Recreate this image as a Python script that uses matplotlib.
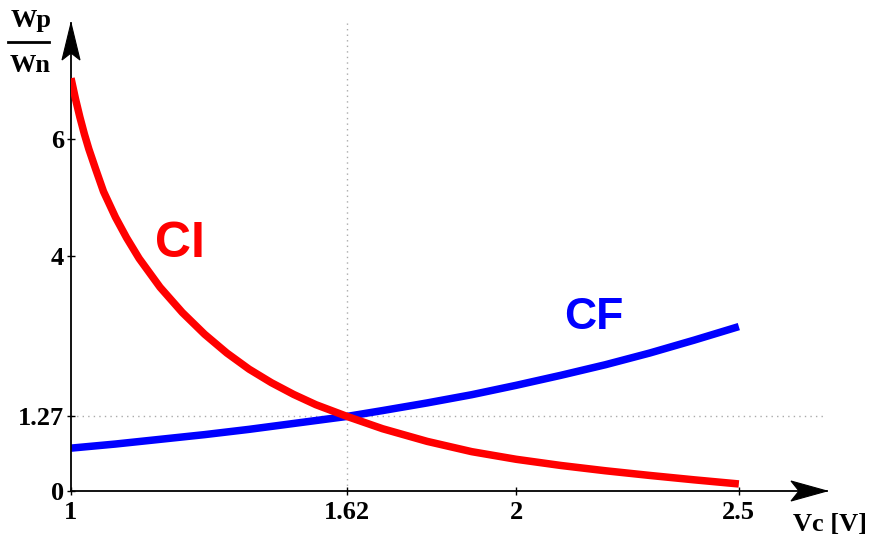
import numpy as np
import matplotlib
matplotlib.use("Agg")
import matplotlib.pyplot as plt
from matplotlib.patches import Polygon
from matplotlib.transforms import IdentityTransform

# Control voltage Vc [V] and width ratio Wp/Wn for the two cells
vc_ci = [1.000, 1.010, 1.020, 1.030, 1.040, 1.055, 1.073, 1.100, 1.125,
         1.153, 1.200, 1.250, 1.300, 1.350, 1.400, 1.450, 1.500, 1.550,
         1.620, 1.700, 1.800, 1.900, 2.000, 2.100, 2.200, 2.300, 2.400, 2.500]
ratio_ci = [7.03, 6.68, 6.365, 6.08, 5.825, 5.49, 5.10, 4.66, 4.31,
            3.96, 3.47, 3.04, 2.67, 2.35, 2.075, 1.845, 1.645, 1.47,
            1.27, 1.06, 0.845, 0.67, 0.54, 0.435, 0.345, 0.265, 0.19, 0.12]

vc_cf = [1.00, 1.10, 1.20, 1.30, 1.40, 1.50, 1.62, 1.70, 1.80, 1.90, 2.00,
         2.10, 2.20, 2.30, 2.40, 2.50]
ratio_cf = [0.73, 0.80, 0.88, 0.96, 1.05, 1.15, 1.27, 1.37, 1.50, 1.64, 1.80,
            1.97, 2.15, 2.35, 2.57, 2.80]

x_ticks = [1, 1.62, 2, 2.5]
x_tick_labels = ["1", "1.62", "2", "2.5"]
y_ticks = [0, 1.27, 4, 6]
y_tick_labels = ["0", "1.27", "4", "6"]
cross_x, cross_y = 1.62, 1.27

W, H, DPI = 870, 537, 100
fig = plt.figure(figsize=(W / DPI, H / DPI), dpi=DPI)
ax = fig.add_axes([71 / W, (H - 491) / H, 756 / W, 468 / H])
ax.set_xlim(1, 2.698)
ax.set_ylim(0, 7.97)

serif = "Liberation Serif"
sans = "Liberation Sans"

# dotted guide lines through the crossing point
ax.plot([cross_x, cross_x], [0, 7.97], ls=(0, (1, 3)), color="#aaaaaa", lw=1.0, zorder=1)
ax.plot([1, 2.698], [cross_y, cross_y], ls=(0, (1, 3)), color="#aaaaaa", lw=1.0, zorder=1)

ax.plot(vc_ci, ratio_ci, color="#ff0000", lw=5.4, solid_capstyle="butt",
        solid_joinstyle="round", zorder=3)
ax.plot(vc_cf, ratio_cf, color="#0000ff", lw=5.4, solid_capstyle="butt",
        solid_joinstyle="round", zorder=2)

for s in ["top", "right"]:
    ax.spines[s].set_visible(False)
for s in ["left", "bottom"]:
    ax.spines[s].set_linewidth(1.3)
    ax.spines[s].set_color("black")

ax.set_xticks(x_ticks)
ax.set_xticklabels(x_tick_labels, fontfamily=serif, fontweight="bold", fontsize=19)
ax.set_yticks(y_ticks)
ax.set_yticklabels(y_tick_labels, fontfamily=serif, fontweight="bold", fontsize=19)
ax.tick_params(axis="both", direction="inout", length=6, width=1.0, color="black")
ax.tick_params(axis="x", pad=4)
ax.tick_params(axis="y", pad=2)

# curve labels
ax.text(1.245, 4.20, "CI", color="#ff0000", fontfamily=sans, fontweight="bold",
        fontsize=36, ha="center", va="center")
ax.text(2.175, 2.95, "CF", color="#0000ff", fontfamily=sans, fontweight="bold",
        fontsize=32, ha="center", va="center")

# axis titles
fig.text(31 / W, 1 - 21 / H, "Wp", fontfamily=serif, fontweight="bold",
         fontsize=19, ha="center", va="center")
fig.add_artist(plt.Line2D([8 / W, 49 / W], [1 - 42 / H, 1 - 42 / H],
                          color="black", lw=2.0, transform=fig.transFigure))
fig.text(30 / W, 1 - 66 / H, "Wn", fontfamily=serif, fontweight="bold",
         fontsize=19, ha="center", va="center")
fig.text(830 / W, 1 - 524 / H, "Vc [V]", fontfamily=serif, fontweight="bold",
         fontsize=19, ha="center", va="center")

# arrowheads at the ends of both axes
fig.canvas.draw()
tip_x = ax.transAxes.transform((1.0, 0.0))
tip_y = ax.transAxes.transform((0.0, 1.0))
head_x = np.array([[0, 0], [-36, 10], [-28, 0], [-36, -10]]) + tip_x
head_y = np.array([[0, 0], [-9, -37], [0, -30], [9, -37]]) + tip_y
for verts in (head_x, head_y):
    fig.patches.append(Polygon(verts, closed=True, facecolor="black",
                               edgecolor="black", lw=0.8,
                               transform=IdentityTransform(), figure=fig))

fig.savefig("out.png", dpi=DPI)
